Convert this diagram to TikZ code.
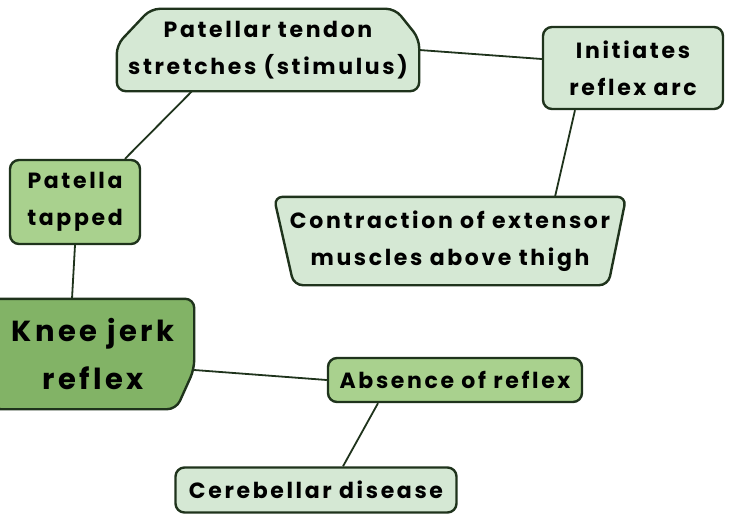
\documentclass[tikz,border=0pt]{standalone}
\usepackage{fontspec}
\setmainfont{Poppins}[LetterSpace=12]
\usetikzlibrary{backgrounds}
\definecolor{lightgreen}{HTML}{D5E8D4}
\definecolor{midgreen}{HTML}{A9D18E}
\definecolor{darkgreen}{HTML}{82B366}
\definecolor{edgegreen}{HTML}{1F331C}
\tikzset{
  box/.style={draw=edgegreen, line width=2.4pt, rounded corners=9pt, align=center,
    inner sep=0pt, font=\fontsize{22}{37}\selectfont\bfseries},
  boxlight/.style={box, fill=lightgreen},
  boxmid/.style={box, fill=midgreen},
  link/.style={draw=edgegreen, line width=1.8pt}
}
\begin{document}
\begin{tikzpicture}[x=1pt, y=-1pt, line join=round, line cap=round]
\useasboundingbox (0,0) rectangle (739,519);
\node[box, draw=none, minimum width=300pt, minimum height=80pt] (tendon) at (268,50)
  {Patellar tendon\\stretches (stimulus)};
\node[boxlight, minimum width=180pt, minimum height=82pt] (init) at (633,68)
  {Initiates\\reflex arc};
\node[boxmid, minimum width=130pt, minimum height=84pt] (tapped) at (75,202)
  {Patella\\tapped};
\node[box, draw=none, minimum width=350pt, minimum height=86pt] (contr) at (450,241)
  {Contraction of extensor\\muscles above thigh};
\node[box, draw=none, minimum width=200pt, minimum height=108pt,
  font=\fontsize{29}{48}\selectfont\bfseries] (knee) at (93,354)
  {Knee jerk\\reflex};
\node[boxmid, minimum width=254pt, minimum height=44pt] (absence) at (455,380)
  {Absence of reflex};
\node[boxlight, minimum width=281pt, minimum height=45pt] (cereb) at (316,490)
  {Cerebellar disease};
% outlines of the odd shapes, then connectors
\begin{scope}[on background layer]
\draw[box, fill=lightgreen] ([yshift=-36pt]tendon.north west) -- ([xshift=34pt]tendon.north west)
  -- ([xshift=-24pt]tendon.north east) -- ([yshift=-30pt]tendon.north east)
  -- (tendon.south east) -- (tendon.south west) -- cycle;
\draw[box, fill=lightgreen] (contr.north west) -- (contr.north east)
  -- ([xshift=-18pt]contr.south east) -- ([xshift=20pt]contr.south west) -- cycle;
\draw[box, fill=darkgreen] (knee.north west) -- (knee.north east)
  -- ([yshift=40pt]knee.south east) -- ([xshift=-18pt]knee.south east) -- (knee.south west) -- cycle;
\draw[link] ([xshift=-76pt]tendon.south) -- ([xshift=50pt]tapped.north);
\draw[link] (tendon.east) -- ([yshift=9pt]init.west);
\draw[link] ([xshift=-58pt]init.south) -- ([xshift=105pt]contr.north);
\draw[link] (tapped.south) -- ([xshift=-21pt]knee.north);
\draw[link] ([yshift=-16pt]knee.east) -- (absence.west);
\draw[link] ([xshift=-77pt]absence.south) -- ([xshift=27pt]cereb.north);
\end{scope}
\end{tikzpicture}
\end{document}
